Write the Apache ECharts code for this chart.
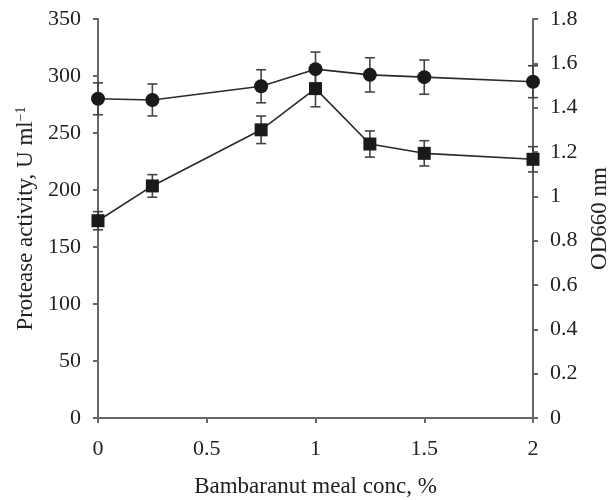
<!DOCTYPE html>
<html>
<head>
<meta charset="utf-8">
<script src="https://cdn.jsdelivr.net/npm/echarts@6/dist/echarts.min.js"></script>
<style>html,body{margin:0;padding:0;background:#fff}#c{width:609px;height:500px}</style>
</head>
<body>
<div id="c"></div>
<script>
const conc = [0, 0.25, 0.75, 1, 1.25, 1.5, 2];
const protease = [280, 279, 291, 306, 301, 299, 295];
const proteaseErr = [14, 14, 14.5, 15, 15, 15, 14];
const od = [0.89, 1.047, 1.30, 1.486, 1.236, 1.194, 1.167];
const odErr = [0.041, 0.051, 0.062, 0.082, 0.059, 0.057, 0.057];
const xTicks = [0, 0.5, 1, 1.5, 2];

const FONT = 'Liberation Serif';
const chart = echarts.init(document.getElementById('c'));

function errData(vals, errs) {
  return conc.map((x, i) => [x, vals[i] - errs[i], vals[i] + errs[i]]);
}
function renderErr(params, api) {
  const x = api.value(0);
  const p1 = api.coord([x, api.value(1)]);
  const p2 = api.coord([x, api.value(2)]);
  const w = 5;
  const st = {stroke: '#444', lineWidth: 1.6};
  return {type: 'group', children: [
    {type: 'line', shape: {x1: p1[0], y1: p1[1], x2: p2[0], y2: p2[1]}, style: st},
    {type: 'line', shape: {x1: p1[0] - w, y1: p1[1], x2: p1[0] + w, y2: p1[1]}, style: st},
    {type: 'line', shape: {x1: p2[0] - w, y1: p2[1], x2: p2[0] + w, y2: p2[1]}, style: st}
  ]};
}

const axisCommon = {
  axisLine: {show: true, lineStyle: {color: '#666', width: 2}},
  axisTick: {show: true, length: 5, inside: false, lineStyle: {color: '#666', width: 2}},
  splitLine: {show: false},
  axisLabel: {fontFamily: FONT, fontSize: 22, color: '#222'},
  nameTextStyle: {fontFamily: FONT, fontSize: 23, color: '#222'}
};

chart.setOption({
  animation: false,
  grid: {left: 98, right: 76, top: 19, bottom: 82, outerBoundsMode: 'none', containLabel: false},
  xAxis: Object.assign({}, axisCommon, {
    type: 'value', min: 0, max: 2, interval: 0.5,
    name: 'Bambaranut meal conc, %', nameLocation: 'middle', nameGap: 57,
    axisLabel: Object.assign({}, axisCommon.axisLabel, {margin: 20,
      customValues: xTicks, formatter: v => String(v)}),
    axisTick: Object.assign({}, axisCommon.axisTick, {customValues: xTicks})
  }),
  yAxis: [
    Object.assign({}, axisCommon, {
      type: 'value', min: 0, max: 350, interval: 50, position: 'left',
      name: 'Protease activity, U ml{sup|−1}', nameLocation: 'middle', nameGap: 60,
      nameTextStyle: Object.assign({}, axisCommon.nameTextStyle, {
        rich: {sup: {fontFamily: FONT, fontSize: 14, color: '#222', verticalAlign: 'top', padding: [0, 0, 9, 0]}}
      }),
      axisLabel: Object.assign({}, axisCommon.axisLabel, {margin: 17})
    }),
    Object.assign({}, axisCommon, {
      type: 'value', min: 0, max: 1.8, interval: 0.2, position: 'right',
      name: 'OD660 nm', nameLocation: 'middle', nameGap: 55, nameRotate: 90,
      axisLabel: Object.assign({}, axisCommon.axisLabel, {margin: 17, formatter: v => String(+v.toFixed(1))})
    })
  ],
  series: [
    {type: 'custom', yAxisIndex: 0, renderItem: renderErr, data: errData(protease, proteaseErr), z: 1, silent: true},
    {type: 'custom', yAxisIndex: 1, renderItem: renderErr, data: errData(od, odErr), z: 1, silent: true},
    {type: 'line', yAxisIndex: 0, data: conc.map((x, i) => [x, protease[i]]),
     symbol: 'circle', symbolSize: 14, z: 3,
     lineStyle: {color: '#2a2a2a', width: 1.6}, itemStyle: {color: '#1a1a1a'}},
    {type: 'line', yAxisIndex: 1, data: conc.map((x, i) => [x, od[i]]),
     symbol: 'rect', symbolSize: 13, z: 3,
     lineStyle: {color: '#2a2a2a', width: 1.6}, itemStyle: {color: '#1a1a1a'}}
  ]
});
</script>
</body>
</html>
